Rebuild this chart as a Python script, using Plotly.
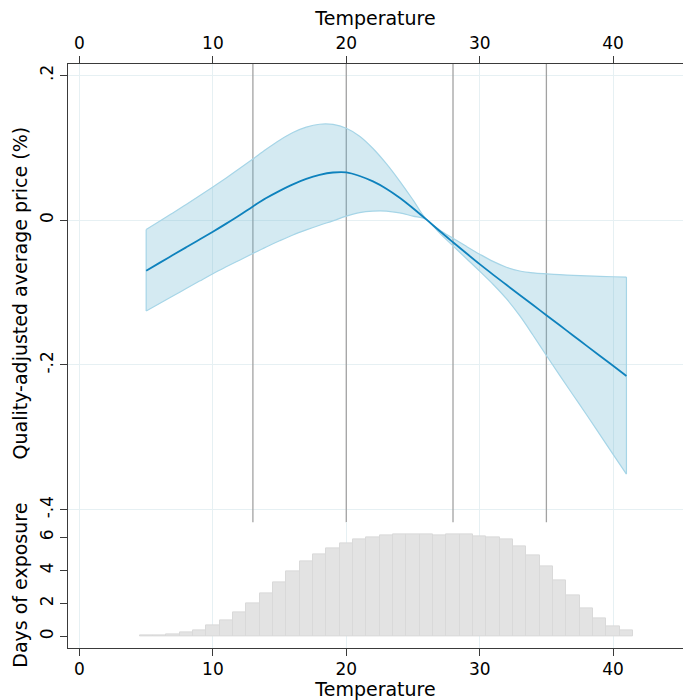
import plotly.graph_objects as go

# Temperature grid (degrees) for the estimated response
temps = list(range(5, 42))

# Point estimate of the quality-adjusted average price effect (%)
price_effect = [
    -0.0700, -0.0590, -0.0482, -0.0375, -0.0268, -0.0160, -0.0048, 0.0068, 0.0190, 0.0305,
    0.0405, 0.0495, 0.0570, 0.0625, 0.0658, 0.0660, 0.0610, 0.0535, 0.0435, 0.0310,
    0.0165, 0.0010, -0.0150, -0.0305, -0.0458, -0.0608, -0.0752, -0.0893, -0.1033, -0.1173,
    -0.1313, -0.1453, -0.1593, -0.1733, -0.1873, -0.2012, -0.2152,
]

# Upper and lower bounds of the confidence band
ci_upper = [
    -0.0128, -0.0015, 0.0100, 0.0217, 0.0336, 0.0458, 0.0583, 0.0712, 0.0845, 0.0980,
    0.1105, 0.1210, 0.1285, 0.1325, 0.1322, 0.1270, 0.1160, 0.0990, 0.0780, 0.0540,
    0.0280, 0.0010, -0.0135, -0.0250, -0.0362, -0.0470, -0.0570, -0.0650, -0.0702, -0.0728,
    -0.0742, -0.0753, -0.0763, -0.0771, -0.0777, -0.0782, -0.0786,
]
ci_lower = [
    -0.1255, -0.1152, -0.1048, -0.0945, -0.0842, -0.0740, -0.0645, -0.0553, -0.0460, -0.0370,
    -0.0285, -0.0205, -0.0135, -0.0070, -0.0010, 0.0055, 0.0105, 0.0125, 0.0125, 0.0100,
    0.0055, 0.0010, -0.0180, -0.0355, -0.0530, -0.0705, -0.0885, -0.1085, -0.1320, -0.1590,
    -0.1870, -0.2145, -0.2415, -0.2685, -0.2960, -0.3235, -0.3508,
]

# Average days of exposure per 1-degree temperature bin
exposure_days = [
    0.05, 0.06, 0.12, 0.24, 0.38, 0.67, 0.97, 1.44, 1.98, 2.59,
    3.27, 3.94, 4.54, 4.96, 5.31, 5.63, 5.85, 5.99, 6.11, 6.17,
    6.18, 6.18, 6.10, 6.18, 6.18, 6.06, 5.98, 5.86, 5.45, 4.90,
    4.23, 3.39, 2.47, 1.71, 1.10, 0.62, 0.37,
]

# Knot locations of the temperature spline
knots = [13, 20, 28, 35]

# Axis ticks and ranges
x_ticks = [0, 10, 20, 30, 40]
y_ticks = [0.2, 0, -0.2, -0.4]
y_tick_text = [".2", "0", "-.2", "-.4"]
hist_ticks = [0, 2, 4, 6]
x_range = [-0.86, 45.24]
y_range = [-0.4175, 0.2157]
hist_range = [-0.7, 6.9]

FONT = "DejaVu Sans"
LINE_BLUE = "#0e82bd"
EDGE_BLUE = "#a6d5e7"
BAND_FILL = "rgba(100,178,210,0.28)"
GRID = "#e6f0f3"
AXIS = "#3a3a3a"
TICK_SIZE = 17
TITLE_SIZE = 19

fig = go.Figure()

# Vertical lines at the spline knots, spanning the upper panel
knot_x, knot_y = [], []
for k in knots:
    knot_x += [k, k, None]
    knot_y += [y_range[0], y_range[1], None]
fig.add_trace(go.Scatter(
    x=knot_x, y=knot_y, mode="lines", line=dict(color="#a2a2a2", width=1.3),
    xaxis="x", yaxis="y", showlegend=False, hoverinfo="skip", cliponaxis=True,
))

# Confidence band: lower edge, then upper edge filled down to it
fig.add_trace(go.Scatter(
    x=temps, y=ci_lower, mode="lines",
    line=dict(color=EDGE_BLUE, width=1.2, shape="spline", smoothing=1.0),
    xaxis="x", yaxis="y", showlegend=False, hoverinfo="skip",
))
fig.add_trace(go.Scatter(
    x=temps, y=ci_upper, mode="lines", fill="tonexty", fillcolor=BAND_FILL,
    line=dict(color=EDGE_BLUE, width=1.2, shape="spline", smoothing=1.0),
    xaxis="x", yaxis="y", showlegend=False, hoverinfo="skip",
))
# Closing edges at both ends of the band
fig.add_trace(go.Scatter(
    x=[temps[0], temps[0], None, temps[-1], temps[-1]],
    y=[ci_upper[0], ci_lower[0], None, ci_upper[-1], ci_lower[-1]],
    mode="lines", line=dict(color=EDGE_BLUE, width=1.2),
    xaxis="x", yaxis="y", showlegend=False, hoverinfo="skip",
))
# Point estimate
fig.add_trace(go.Scatter(
    x=temps, y=price_effect, mode="lines",
    line=dict(color=LINE_BLUE, width=1.8, shape="spline", smoothing=1.0),
    xaxis="x", yaxis="y", showlegend=False,
))

# Exposure histogram
fig.add_trace(go.Bar(
    x=temps, y=exposure_days, width=1,
    marker=dict(color="#e3e3e3", line=dict(color="#d9d9d9", width=1)),
    xaxis="x2", yaxis="y2", showlegend=False,
))

split = 0.2151

common_x = dict(
    range=x_range, tickvals=x_ticks, showgrid=True, gridcolor=GRID, gridwidth=1,
    zeroline=False, ticks="outside", ticklen=7, tickwidth=1.2, tickcolor=AXIS,
    showline=True, linecolor=AXIS, linewidth=1.3,
    tickfont=dict(family=FONT, size=TICK_SIZE, color="black"),
)
common_y = dict(
    tickangle=-90, zeroline=False,
    ticks="outside", ticklen=7, tickwidth=1.2, tickcolor=AXIS,
    showline=True, linecolor=AXIS, linewidth=1.3,
    tickfont=dict(family=FONT, size=TICK_SIZE, color="black"),
)

fig.update_layout(
    width=683, height=700,
    margin=dict(l=67.5, r=0, t=64.3, b=51.7),
    paper_bgcolor="white", plot_bgcolor="white",
    font=dict(family=FONT, size=TICK_SIZE, color="black"),
    bargap=0,
    xaxis=dict(
        **common_x, side="top", anchor="y",
        title=dict(text="Temperature", font=dict(family=FONT, size=TITLE_SIZE), standoff=2),
    ),
    yaxis=dict(
        **common_y,
        domain=[split, 1], range=y_range,
        tickvals=y_ticks, ticktext=y_tick_text,
        showgrid=True, gridcolor=GRID, gridwidth=1,
        title=dict(text="Quality-adjusted average price (%)",
                   font=dict(family=FONT, size=TITLE_SIZE), standoff=4),
        anchor="x",
    ),
    xaxis2=dict(
        **common_x, side="bottom", anchor="y2", ticklabelstandoff=-2,
        title=dict(text="Temperature", font=dict(family=FONT, size=TITLE_SIZE), standoff=1),
    ),
    yaxis2=dict(
        **common_y,
        domain=[0, split], range=hist_range,
        tickvals=hist_ticks, showgrid=False,
        title=dict(text="Days of exposure", font=dict(family=FONT, size=TITLE_SIZE), standoff=4),
        anchor="x2",
    ),
)

fig.write_html("out.html")
